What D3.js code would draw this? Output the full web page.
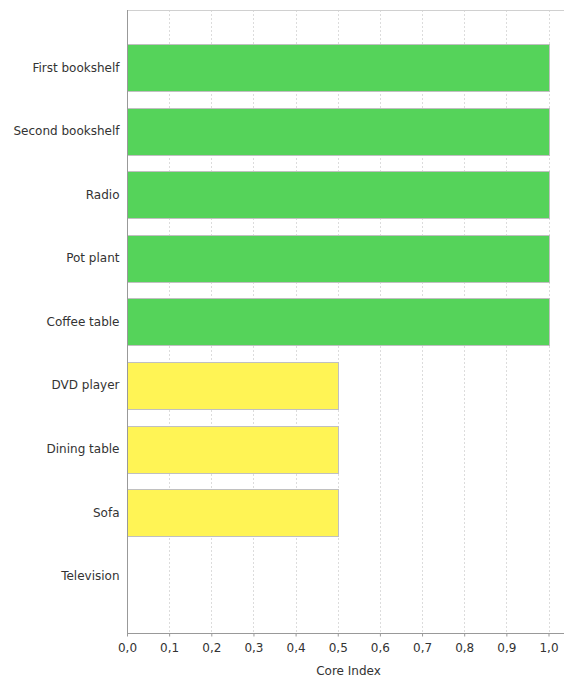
<!DOCTYPE html>
<html>
<head>
<meta charset="utf-8">
<script src="https://d3js.org/d3.v7.min.js"></script>
<style>
  body { margin: 0; background: #fff; }
  text { font-family: "DejaVu Sans", sans-serif; font-size: 12px; fill: #333; }
  .grid line { stroke: #dcdcdc; stroke-dasharray: 2,2; }
  .bar { stroke: #c0c0c0; stroke-width: 1; }
</style>
</head>
<body>
<script>

var categories = ["First bookshelf", "Second bookshelf", "Radio", "Pot plant", "Coffee table",
                  "DVD player", "Dining table", "Sofa", "Television"];
var values = [1.0, 1.0, 1.0, 1.0, 1.0, 0.5, 0.5, 0.5, 0.0];
var colours = ["#55d35a", "#55d35a", "#55d35a", "#55d35a", "#55d35a",
               "#fff455", "#fff455", "#fff455", "#fff455"];
var tickValues = [0, 0.1, 0.2, 0.3, 0.4, 0.5, 0.6, 0.7, 0.8, 0.9, 1.0];

var width = 564,
    height = 681;

var plotLeft = 127, plotTop = 10, plotBottom = 633;

var svg = d3.select("body")
  .append("svg")
  .attr("width", width)
  .attr("height", height);

var x = d3.scaleLinear()
  .domain([0, 1.05])
  .range([plotLeft, plotLeft + 421.5 * 1.05]);

var y = d3.scaleBand()
  .domain(categories)
  .range([plotTop + 26, plotBottom - 25])
  .paddingInner(0.26)
  .paddingOuter(0.13);

// gridlines
svg.append("g")
  .attr("class", "grid")
  .selectAll("line")
  .data(tickValues.slice(1))
  .enter()
  .append("line")
  .attr("x1", function(d){ return Math.round(x(d)) + 0.5; })
  .attr("x2", function(d){ return Math.round(x(d)) + 0.5; })
  .attr("y1", plotTop)
  .attr("y2", plotBottom);

// top border
svg.append("line")
  .attr("x1", plotLeft).attr("x2", width)
  .attr("y1", plotTop + 0.5).attr("y2", plotTop + 0.5)
  .attr("stroke", "#d0d0d0");

// bars
svg.append("g")
  .selectAll("rect")
  .data(values)
  .enter()
  .append("rect")
  .attr("class", "bar")
  .attr("x", x(0) + 0.5)
  .attr("y", function(d, i){ return Math.round(y(categories[i])) + 0.5; })
  .attr("width", function(d){ return Math.max(0, Math.round(x(d) - x(0))); })
  .attr("height", Math.round(y.bandwidth()))
  .attr("fill", function(d, i){ return colours[i]; })
  .style("display", function(d){ return d > 0 ? null : "none"; });

// y axis
var yAxis = svg.append("g")
  .attr("transform", "translate(" + (plotLeft + 0.5) + ",0)")
  .call(d3.axisLeft(y).tickSize(0).tickPadding(8));
yAxis.select(".domain").attr("stroke", "#999").attr("d", "M0," + plotTop + "V" + plotBottom);
yAxis.selectAll("text").style("font-size", "12px").attr("fill", "#333");

// x axis
var xAxis = svg.append("g")
  .attr("transform", "translate(0," + (plotBottom + 0.5) + ")")
  .call(d3.axisBottom(x)
    .tickValues(tickValues)
    .tickSize(3)
    .tickPadding(7)
    .tickFormat(function(d){ return d3.format(".1f")(d).replace(".", ","); }));
xAxis.select(".domain").attr("stroke", "#999").attr("d", "M" + plotLeft + ",0H" + width);
xAxis.selectAll(".tick line").attr("stroke", "#999");
xAxis.selectAll("text").style("font-size", "12px").attr("fill", "#333");

svg.append("text")
  .attr("x", (plotLeft + width) / 2 + 3)
  .attr("y", 675)
  .attr("text-anchor", "middle")
  .text("Core Index");

</script>
</body>
</html>
